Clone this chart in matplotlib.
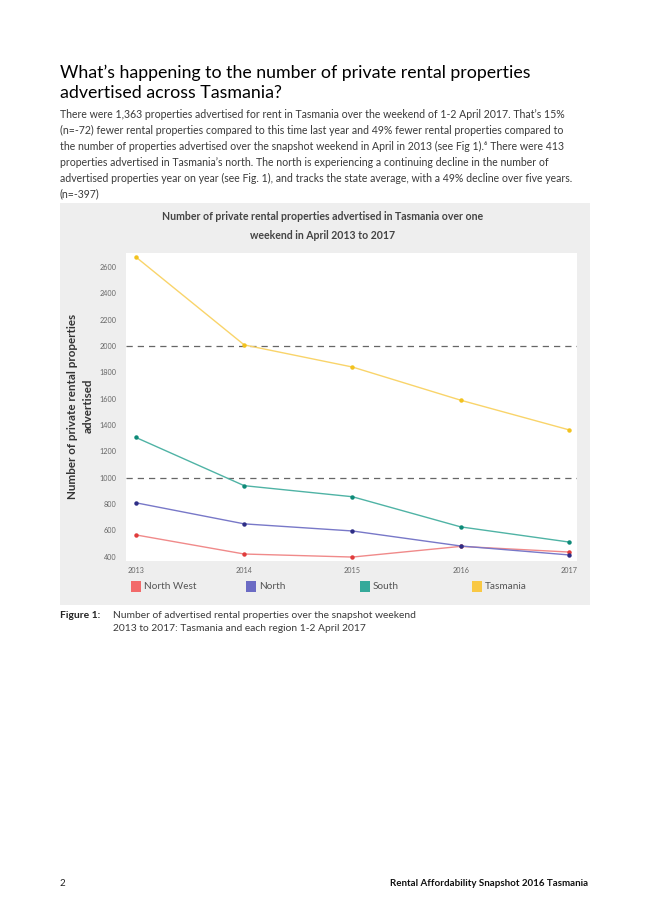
import numpy as np
import matplotlib.pyplot as plt
from matplotlib.patches import Rectangle

# data
years = [2013, 2014, 2015, 2016, 2017]
north_west = [565, 420, 397, 478, 435]
north = [809, 649, 595, 481, 413]
south = [1305, 939, 855, 626, 511]
tasmania = [2675, 2008, 1840, 1588, 1363]

series_names = ["North West", "North", "South", "Tasmania"]
series_values = [north_west, north, south, tasmania]
line_colors = ["#f08a8a", "#7878c8", "#4fb3a5", "#f9d46a"]
marker_colors = ["#e03c3c", "#2e2e86", "#0e8a78", "#f2c21e"]
patch_colors = ["#f26a6a", "#6b6bc4", "#35a99a", "#f9c844"]

y_ticks = list(range(400, 2601, 200))
body_lines = [
    "There were 1,363 properties advertised for rent in Tasmania over the weekend of 1-2 April 2017. That\u2019s 15%",
    "(n=-72) fewer rental properties compared to this time last year and 49% fewer rental properties compared to",
    "the number of properties advertised over the snapshot weekend in April in 2013 (see Fig 1).\u2076 There were 413",
    "properties advertised in Tasmania\u2019s north. The north is experiencing a continuing decline in the number of",
    "advertised properties year on year (see Fig. 1), and tracks the state average, with a 49% decline over five years.",
    "(n=-397)",
]

W, H = 646, 915
plt.rcParams['font.family'] = ['Lato', 'DejaVu Sans']
fig = plt.figure(figsize=(W / 100, H / 100), dpi=100)
fig.patch.set_facecolor("white")


def fx(px):
    return px / W


def fy(py):
    return 1 - py / H


# grey panel behind the chart
fig.patches.append(Rectangle((fx(60), fy(605)), fx(590) - fx(60), fy(203) - fy(605),
                             transform=fig.transFigure, facecolor="#eeeeee",
                             edgecolor="none", zorder=-5))

fig.text(fx(60), fy(83), "What\u2019s happening to the number of private rental properties\n"
         "advertised across Tasmania?", fontsize=12.8, va="center", ha="left",
         linespacing=1.3, color="#000000")
for i, line in enumerate(body_lines):
    fig.text(fx(60), fy(114 + 16 * i), line, fontsize=7.58, va="center", ha="left",
             color="#3a3a3a")

fig.text(fx(323), fy(216), "Number of private rental properties advertised in Tasmania over one",
         fontsize=7.6, fontweight="bold", ha="center", va="center", color="#444444")
fig.text(fx(323), fy(235), "weekend in April 2013 to 2017",
         fontsize=7.6, fontweight="bold", ha="center", va="center", color="#444444")

ax = fig.add_axes([fx(126), fy(561), fx(577) - fx(126), fy(253) - fy(561)])
ax.set_facecolor("white")
for name, vals, lc, mc in zip(series_names, series_values, line_colors, marker_colors):
    ax.plot(years, vals, color=lc, linewidth=1.0, marker="o", markersize=2.2,
            markerfacecolor=mc, markeredgecolor=mc, zorder=3)

for yv in (1000, 2000):
    ax.axhline(yv, color="#666666", linewidth=0.9, linestyle=(0, (5, 4)), zorder=1)

ax.set_xlim(2012.908, 2017.074)
ax.set_ylim(367, 2706)
ax.set_xticks(years)
ax.set_yticks(y_ticks)
ax.tick_params(length=0, labelsize=5.2, colors="#666666")
ax.tick_params(axis="y", pad=7)
ax.tick_params(axis="x", pad=4)
for s in ax.spines.values():
    s.set_visible(False)

fig.text(fx(80), fy(406), "Number of private rental properties\nadvertised", rotation=90,
         fontsize=8.4, fontweight="bold", ha="center", va="center", color="#333333",
         linespacing=1.5)

# legend
leg_x = [131, 246, 360, 472]
for x0, name, pc in zip(leg_x, series_names, patch_colors):
    fig.patches.append(Rectangle((fx(x0), fy(592)), fx(10), fy(581) - fy(592),
                                 transform=fig.transFigure, facecolor=pc, edgecolor="none"))
    fig.text(fx(x0 + 13), fy(586.5), name, fontsize=7.2, ha="left", va="center", color="#555555")

fig.text(fx(60), fy(615), "Figure 1:", fontsize=7.4, fontweight="bold", ha="left", va="center",
         color="#222222")
fig.text(fx(113), fy(622), "Number of advertised rental properties over the snapshot weekend\n"
         "2013 to 2017: Tasmania and each region 1-2 April 2017", fontsize=7.4, ha="left",
         va="center", linespacing=1.45, color="#3a3a3a")

fig.text(fx(60), fy(884), "2", fontsize=7, ha="left", va="center", color="#222222")
fig.text(fx(588), fy(884), "Rental Affordability Snapshot 2016 Tasmania", fontsize=7,
         fontweight="bold", ha="right", va="center", color="#111111")

fig.savefig("out.png", dpi=100)
